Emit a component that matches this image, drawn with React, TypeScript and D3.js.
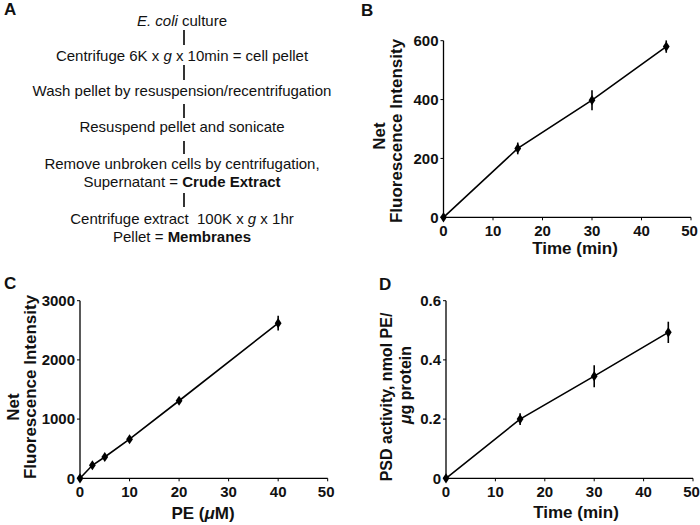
import React from "react";
import * as d3 from "d3";

const timeB = [0, 15, 30, 45];
const fluorB = [0, 234, 398, 580];
const errB = [0, 20, 34, 21];

const peC = [0, 2.5, 5, 10, 20, 40];
const fluorC = [0, 220, 360, 660, 1310, 2620];
const errC = [0, 30, 30, 40, 40, 125];

const timeD = [0, 15, 30, 45];
const psdD = [0, 0.2, 0.345, 0.493];
const errD = [0, 0.02, 0.037, 0.036];

const xTicks = [0, 10, 20, 30, 40, 50];
const yTicksB = [0, 200, 400, 600];
const yTicksC = [0, 1000, 2000, 3000];
const yTicksD = [0, 0.2, 0.4, 0.6];

const FONT = "'Liberation Sans', Arial, Helvetica, sans-serif";

type PanelProps = {
  xs: number[];
  ys: number[];
  es: number[];
  xRange: [number, number];
  yDomain: [number, number];
  yRange: [number, number];
  yTicks: number[];
  yFmt: (v: number) => string;
};

function Panel({ xs, ys, es, xRange, yDomain, yRange, yTicks, yFmt }: PanelProps) {
  const x = d3.scaleLinear().domain([0, 50]).range(xRange);
  const y = d3.scaleLinear().domain(yDomain).range(yRange);
  const pts = xs.map((v, i) => [v, ys[i], es[i]] as [number, number, number]);
  const line = d3
    .line<[number, number, number]>()
    .x((d) => x(d[0]))
    .y((d) => y(d[1]));
  const diamond = d3.symbol().type(d3.symbolDiamond).size(30)() as string;
  const x0 = x(0);
  const y0 = y(yDomain[0]);
  return (
    <g>
      <line x1={x0} x2={x(50)} y1={y0} y2={y0} stroke="#000" strokeWidth={1.3} />
      <line x1={x0} x2={x0} y1={y0} y2={y(yDomain[1])} stroke="#000" strokeWidth={1.3} />
      {xTicks.map((t, i) => (
        <g key={"xt" + t}>
          <line x1={x(t)} x2={x(t)} y1={y0} y2={y0 + 3} stroke="#000" strokeWidth={1} />
          <text
            x={x(t) - (i === xTicks.length - 1 ? 1.5 : 0)}
            y={y0 + 19}
            textAnchor="middle"
            fontFamily={FONT}
            fontWeight="bold"
            fontSize={15}
            fill="#111"
          >
            {t}
          </text>
        </g>
      ))}
      {yTicks.map((t) => (
        <g key={"yt" + t}>
          <line x1={x0 - 3} x2={x0} y1={y(t)} y2={y(t)} stroke="#000" strokeWidth={1} />
          <text
            x={x0 - 5}
            y={y(t) + 5.3}
            textAnchor="end"
            fontFamily={FONT}
            fontWeight="bold"
            fontSize={15}
            fill="#111"
          >
            {yFmt(t)}
          </text>
        </g>
      ))}
      <path d={line(pts) || ""} fill="none" stroke="#000" strokeWidth={1.6} />
      {pts.map((d, i) => (
        <g key={"p" + i}>
          {d[2] > 0 && (
            <line
              x1={x(d[0])}
              x2={x(d[0])}
              y1={y(d[1] - d[2])}
              y2={y(d[1] + d[2])}
              stroke="#000"
              strokeWidth={1.6}
            />
          )}
          <path d={diamond} transform={`translate(${x(d[0])},${y(d[1])}) scale(1.15,1)`} fill="#000" />
        </g>
      ))}
    </g>
  );
}

const flowLines: { y: number; parts: { t: string; b?: boolean; i?: boolean }[] }[] = [
  { y: 26, parts: [{ t: "E. coli", i: true }, { t: " culture" }] },
  { y: 61, parts: [{ t: "Centrifuge 6K x " }, { t: "g", i: true }, { t: " x 10min = cell pellet" }] },
  { y: 96, parts: [{ t: "Wash pellet by resuspension/recentrifugation" }] },
  { y: 132, parts: [{ t: "Resuspend pellet and sonicate" }] },
  { y: 169, parts: [{ t: "Remove unbroken cells by centrifugation," }] },
  { y: 187, parts: [{ t: "Supernatant = " }, { t: "Crude Extract", b: true }] },
  { y: 224, parts: [{ t: "Centrifuge extract  100K x " }, { t: "g", i: true }, { t: " x 1hr" }] },
  { y: 242, parts: [{ t: "Pellet = " }, { t: "Membranes", b: true }] },
];

const connectors: [number, number][] = [
  [30, 45],
  [65, 80],
  [104, 118],
  [141, 154],
  [193, 207],
];

export default function App() {
  const fmt0 = (v: number) => String(v);
  const fmtD = (v: number) => (v === 0 ? "0" : d3.format(".1f")(v));
  return (
    <svg
      width={700}
      height={525}
      viewBox="0 0 700 525"
      style={{ position: "absolute", left: 0, top: 0, background: "#fff" }}
    >
      <rect x={0} y={0} width={700} height={525} fill="#fff" />
      {[
        ["A", 4, 15],
        ["B", 361, 16],
        ["C", 4, 289],
        ["D", 379, 290],
      ].map(([l, xx, yy]) => (
        <text
          key={l as string}
          x={xx as number}
          y={yy as number}
          fontFamily={FONT}
          fontWeight="bold"
          fontSize={17}
          fill="#111"
        >
          {l}
        </text>
      ))}

      {flowLines.map((ln, i) => (
        <text
          key={"fl" + i}
          x={182}
          y={ln.y}
          textAnchor="middle"
          fontFamily={FONT}
          fontSize={15}
          fill="#111"
          style={{ whiteSpace: "pre" }}
        >
          {ln.parts.map((p, j) => (
            <tspan
              key={j}
              fontWeight={p.b ? "bold" : "normal"}
              fontStyle={p.i ? "italic" : "normal"}
            >
              {p.t}
            </tspan>
          ))}
        </text>
      ))}
      {connectors.map(([a, b], i) => (
        <line key={"c" + i} x1={184} x2={184} y1={a} y2={b} stroke="#000" strokeWidth={1.6} />
      ))}

      <Panel
        xs={timeB}
        ys={fluorB}
        es={errB}
        xRange={[443.5, 691]}
        yDomain={[0, 600]}
        yRange={[217.3, 40.7]}
        yTicks={yTicksB}
        yFmt={fmt0}
      />
      <text
        transform="translate(385,136) rotate(-90)"
        textAnchor="middle"
        fontFamily={FONT}
        fontWeight="bold"
        fontSize={17}
        fill="#111"
      >
        Net
      </text>
      <text
        transform="translate(402,131) rotate(-90)"
        textAnchor="middle"
        fontFamily={FONT}
        fontWeight="bold"
        fontSize={17}
        fill="#111"
      >
        Fluorescence Intensity
      </text>
      <text
        x={575}
        y={254}
        textAnchor="middle"
        fontFamily={FONT}
        fontWeight="bold"
        fontSize={17}
        fill="#111"
      >
        Time (min)
      </text>

      <Panel
        xs={peC}
        ys={fluorC}
        es={errC}
        xRange={[80, 327.7]}
        yDomain={[0, 3000]}
        yRange={[478.3, 300.7]}
        yTicks={yTicksC}
        yFmt={fmt0}
      />
      <text
        transform="translate(18.5,407) rotate(-90)"
        textAnchor="middle"
        fontFamily={FONT}
        fontWeight="bold"
        fontSize={17}
        fill="#111"
      >
        Net
      </text>
      <text
        transform="translate(36,387) rotate(-90)"
        textAnchor="middle"
        fontFamily={FONT}
        fontWeight="bold"
        fontSize={17}
        fill="#111"
      >
        Fluorescence Intensity
      </text>
      <text
        x={203}
        y={519}
        textAnchor="middle"
        fontFamily={FONT}
        fontWeight="bold"
        fontSize={17}
        fill="#111"
      >
        PE (<tspan fontStyle="italic">μ</tspan>M)
      </text>

      <Panel
        xs={timeD}
        ys={psdD}
        es={errD}
        xRange={[446, 693]}
        yDomain={[0, 0.6]}
        yRange={[478.3, 300.7]}
        yTicks={yTicksD}
        yFmt={fmtD}
      />
      <text
        transform="translate(392,397) rotate(-90)"
        textAnchor="middle"
        fontFamily={FONT}
        fontWeight="bold"
        fontSize={16}
        fill="#111"
      >
        PSD activity, nmol PE/
      </text>
      <text
        transform="translate(411,385) rotate(-90)"
        textAnchor="middle"
        fontFamily={FONT}
        fontWeight="bold"
        fontSize={16}
        fill="#111"
      >
        <tspan fontStyle="italic">μ</tspan>g protein
      </text>
      <text
        x={576}
        y={518}
        textAnchor="middle"
        fontFamily={FONT}
        fontWeight="bold"
        fontSize={17}
        fill="#111"
      >
        Time (min)
      </text>
    </svg>
  );
}
